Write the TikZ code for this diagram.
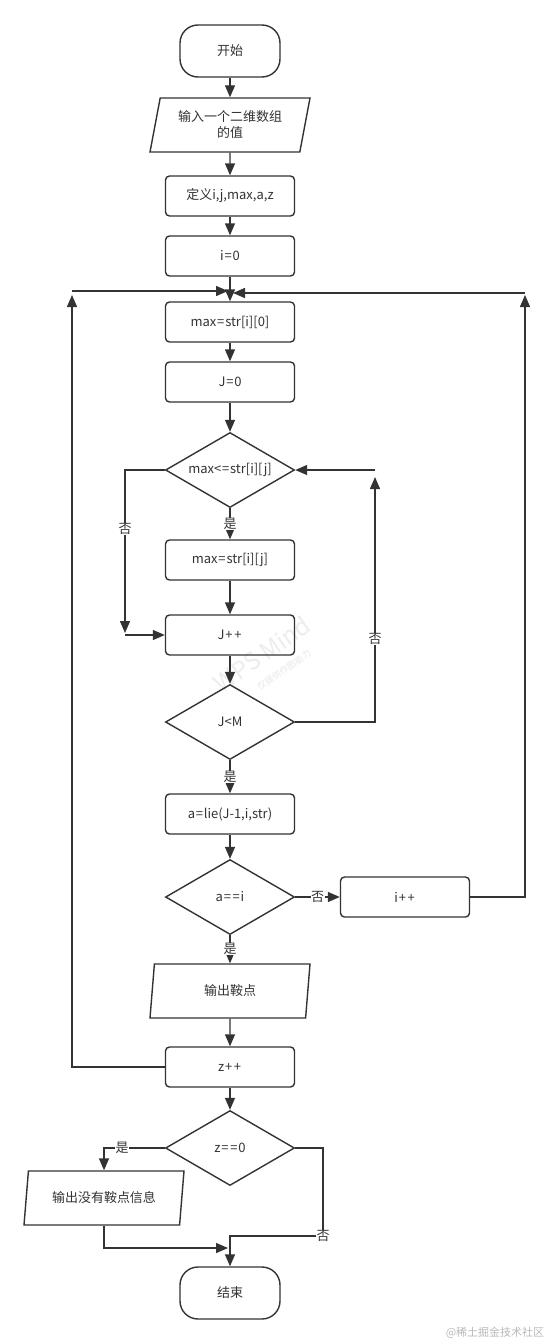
\documentclass[tikz,border=0pt]{standalone}
\usepackage{fontspec}
\setmainfont{Noto Sans CJK SC}
\usetikzlibrary{shapes.geometric,arrows.meta}
\definecolor{ln}{HTML}{333333}
\newcommand{\pl}{\kern0.8pt+\kern0.8pt}
\newcommand{\eq}{\kern0.8pt=\kern0.8pt}
\begin{document}
\begin{tikzpicture}[x=1pt,y=-1pt,
  base/.style={draw=ln, line width=1.4pt, text=ln, font=\fontsize{13}{16}\selectfont, align=center},
  box/.style={base, rounded corners=4pt, minimum width=129pt, minimum height=40pt},
  term/.style={base, rounded corners=18pt, minimum width=100pt, minimum height=52pt},
  io/.style={base, trapezium, trapezium left angle=70, trapezium right angle=110, trapezium stretches body, minimum width=160pt, minimum height=54pt, inner sep=0pt},
  dec/.style={base, diamond, aspect=1.72, minimum width=129pt, minimum height=75pt, inner sep=0pt},
  arr/.style={draw=ln, line width=1.4pt, -{Triangle[length=12pt,width=10pt]}},
  lab/.style={fill=white, inner sep=0.5pt, text=ln, font=\fontsize{13}{15}\selectfont}]
\useasboundingbox (0,0) rectangle (551,1344);
\fill[white] (0,0) rectangle (551,1344);
% watermark (faint)
\node[rotate=35, text=gray!14, font=\fontsize{24}{26}\selectfont] (wps) at (262,654) {WPS Mind};
\node[rotate=35, text=gray!18, font=\fontsize{9}{11}\selectfont] (wps2) at (284,670) {仅提供作图能力};
% nodes
\node[term] (start) at (230,51) {开始};
\node[io] (in) at (230,125) {输入一个二维数组\\的值};
\node[box] (def) at (230,196) {定义i,j,max,a,z};
\node[box] (i0) at (230,256) {i\eq0};
\node[box] (max0) at (230,322) {max\eq str[i][0]};
\node[box] (j0) at (230,382) {J\eq0};
\node[dec] (d1) at (230,470) {max<\eq str[i][j]};
\node[box] (maxj) at (230,560) {max\eq str[i][j]};
\node[box] (jpp) at (230,635) {J\pl\pl};
\node[dec] (d2) at (230,722) {J<M};
\node[box] (alie) at (230,814) {a\eq lie(J-1,i,str)};
\node[dec] (d3) at (230,897) {a\eq\eq i};
\node[box] (ipp) at (405,897) {i\pl\pl};
\node[io] (out) at (230,991) {输出鞍点};
\node[box] (zpp) at (230,1067) {z\pl\pl};
\node[dec] (d4) at (230,1148) {z\eq\eq0};
\node[io] (out2) at (104,1198) {输出没有鞍点信息};
\node[term] (end) at (230,1293) {结束};
\node[text=gray!55, font=\fontsize{11}{13}\selectfont] (wm) at (495,1333) {@稀土掘金技术社区};
% coordinates
\coordinate (mL) at (228,291);
\coordinate (mR) at (233,293);
\coordinate (c1) at (125,633);
\coordinate (c2) at (125,635);
\coordinate (c3) at (375,477);
\coordinate (c4) at (375,470);
\coordinate (c5) at (525,295);
\coordinate (c6) at (525,293);
\coordinate (c7) at (72,295);
\coordinate (c8) at (72,291);
\coordinate (c9) at (228,1248);
\coordinate (c10) at (323,1236);
% edges
\draw[arr] (start) -- (in);
\draw[arr] (in) -- (def);
\draw[arr] (def) -- (i0);
\draw[arr] (i0) -- (max0);
\draw[arr] (max0) -- (j0);
\draw[arr] (j0) -- (d1);
\draw[arr] (d1) -- node[lab]{是} (maxj);
\draw[arr] (maxj) -- (jpp);
\draw[arr] (d1.west) -| node[lab, pos=0.68]{否} (c1);
\draw[arr] (c2) -- (jpp.west);
\draw[arr] (jpp) -- (d2);
\draw[arr] (d2.east) -| node[lab, pos=0.67]{否} (c3);
\draw[arr] (c4) -- (d1.east);
\draw[arr] (d2) -- node[lab]{是} (alie);
\draw[arr] (alie) -- (d3);
\draw[arr] (d3) -- node[lab]{否} (ipp);
\draw[arr] (ipp.east) -| (c5);
\draw[arr] (c6) -- (mR);
\draw[arr] (d3) -- node[lab]{是} (out);
\draw[arr] (out) -- (zpp);
\draw[arr] (zpp.west) -| (c7);
\draw[arr] (c8) -- (mL);
\draw[arr] (zpp) -- (d4);
\draw[arr] (d4.west) -| node[lab, pos=0.35]{是} (out2.north);
\draw[arr] (out2.south) |- (c9);
\draw[arr] (d4.east) -| (c10) node[lab]{否} -| (end.north);
\end{tikzpicture}
\end{document}
